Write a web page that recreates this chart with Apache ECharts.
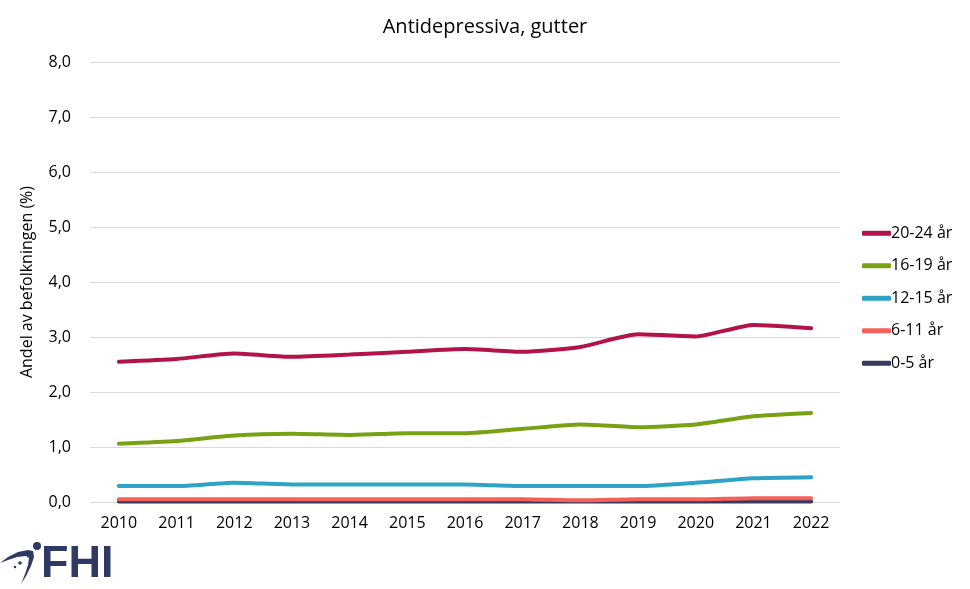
<!DOCTYPE html>
<html><head><meta charset="utf-8">
<script src="https://cdn.jsdelivr.net/npm/echarts@6/dist/echarts.min.js"></script>
<style>html,body{margin:0;padding:0;background:#fff}#c{width:970px;height:589px}</style>
</head><body><div id="c"></div>
<script>
const years = ['2010','2011','2012','2013','2014','2015','2016','2017','2018','2019','2020','2021','2022'];
const s20_24 = [2.55,2.60,2.70,2.64,2.68,2.73,2.78,2.73,2.82,3.05,3.01,3.22,3.16];
const s16_19 = [1.06,1.11,1.21,1.24,1.22,1.25,1.25,1.33,1.41,1.36,1.41,1.56,1.62];
const s12_15 = [0.29,0.29,0.35,0.32,0.32,0.32,0.32,0.29,0.29,0.29,0.35,0.43,0.45];
const s6_11 = [0.05,0.05,0.05,0.05,0.05,0.05,0.05,0.05,0.03,0.05,0.05,0.07,0.07];
const s0_5 = [0.01,0.01,0.01,0.01,0.01,0.01,0.01,0.01,0.01,0.01,0.01,0.01,0.01];
const yTicks = [0,1,2,3,4,5,6,7,8];

const font = 'Open Sans';
const names = ['20-24 år','16-19 år','12-15 år','6-11 år','0-5 år'];
const colors = ['#B2134A','#78A214','#2EA3C6','#F5605A','#363A5E'];
const datas = [s20_24,s16_19,s12_15,s6_11,s0_5];

const chart = echarts.init(document.getElementById('c'));
chart.setOption({
  animation:false,
  title:{text:'Antidepressiva, gutter',left:'center',top:12,
    textStyle:{fontFamily:font,fontSize:20,fontWeight:'normal',color:'#000'}},
  grid:{left:90,right:130,top:62,bottom:87},
  legend:{orient:'vertical',left:857,top:218,itemGap:12,itemWidth:29,itemHeight:5,
    icon:'roundRect',data:names,
    textStyle:{fontFamily:font,fontSize:16,lineHeight:20.5,color:'#000',padding:[0,0,0,-5]}},
  xAxis:{type:'category',data:years,boundaryGap:true,
    axisLine:{show:false},axisTick:{show:false},
    axisLabel:{fontFamily:font,fontSize:16,color:'#000',margin:13}},
  yAxis:{type:'value',min:0,max:8,interval:1,
    name:'Andel av befolkningen (%)',nameLocation:'middle',nameGap:55,nameRotate:90,
    nameTextStyle:{fontFamily:font,fontSize:16,color:'#000'},
    axisLabel:{fontFamily:font,fontSize:16,color:'#000',margin:19,
      formatter:v=>yTicks.includes(v)?v.toFixed(1).replace('.',','):''},
    splitLine:{lineStyle:{color:'#d9d9d9',width:1}}},
  series:datas.map((d,i)=>({name:names[i],type:'line',data:d,smooth:0.2,
    symbol:'none',z:10-i,lineStyle:{color:colors[i],width:4,cap:'round'},itemStyle:{color:colors[i]}})).reverse(),
  graphic:[
    {type:'text',x:41,y:542,style:{text:'FHI',fontFamily:'Liberation Sans',fontWeight:'bold',fontSize:45,fill:'#2E3A63'}},
    {type:'polygon',shape:{points:[[0,563],[8,557],[18,552],[28,550],[33,551],[34,557],[31,566],[26,576],[21,584],[25,574],[28,565],[29,558],[26,556],[17,557],[8,560]]},style:{fill:'#2E3A63'}},
    {type:'circle',shape:{cx:37,cy:546,r:4},style:{fill:'#2E3A63'}},
    {type:'circle',shape:{cx:20,cy:563,r:1.8},style:{fill:'#2E3A63'}},
    {type:'circle',shape:{cx:15,cy:567,r:1.3},style:{fill:'#2E3A63'}}
  ]
});
</script></body></html>
